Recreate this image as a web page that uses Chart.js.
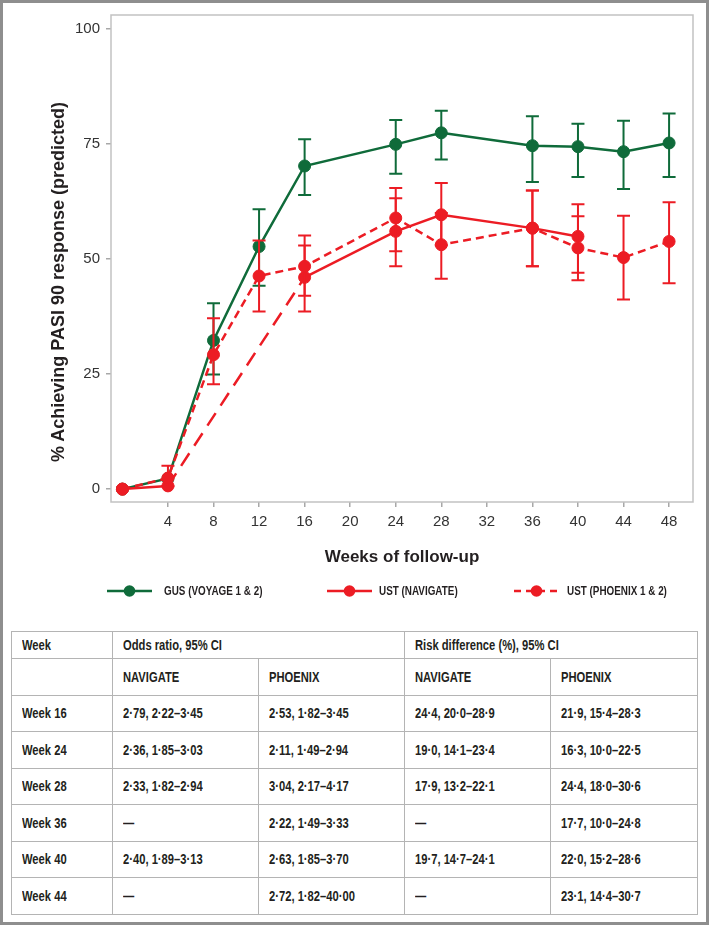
<!DOCTYPE html>
<html>
<head>
<meta charset="utf-8">
<script src="https://cdn.jsdelivr.net/npm/chart.js@4.4.1/dist/chart.umd.min.js"></script>
<style>
body { margin: 0; background: #fff; }
#page { position: relative; width: 709px; height: 925px; overflow: hidden;
  font-family: "Liberation Sans", Arial, sans-serif; color: #231f20; }
#frame { position: absolute; left: 0; top: 0; width: 709px; height: 925px; box-sizing: border-box;
  border: 3px solid #8e8e8e; pointer-events: none; }
#chartWrap { position: absolute; left: 0; top: 0; width: 709px; height: 575px; }
#ytitle { position: absolute; left: 58px; top: 282px; transform: translate(-50%, -50%) rotate(-90deg);
  font-size: 18px; font-weight: bold; white-space: nowrap; }
.item { position: absolute; top: 580px; height: 22px; font-size: 13px; font-weight: bold; line-height: 22px; white-space: nowrap; }
.item svg { position: absolute; top: 4px; }
.item span { position: absolute; top: 0; transform: scaleX(0.76); transform-origin: left center; }
#tbl { position: absolute; left: 11px; top: 631px; width: 686px; border-collapse: collapse; table-layout: fixed;
  font-size: 14px; font-weight: bold; }
#tbl td { border: 1.5px solid #b4b4b4; padding: 0 0 0 10px; white-space: nowrap; overflow: visible; }
#tbl td span { display: inline-block; transform: scaleX(0.8); transform-origin: left center; }
#tbl tr { height: 36.5px; }
#tbl tr.head { height: 27px; }
</style>
</head>
<body>
<div id="page">
  <div id="chartWrap"><canvas id="chart" width="709" height="575"></canvas></div>
  <div id="ytitle">% Achieving PASI 90 response (predicted)</div>
  <table id="tbl">
    <colgroup><col style="width:101px"><col style="width:146px"><col style="width:146px"><col style="width:146px"><col style="width:147px"></colgroup>
    <tbody id="tbody"></tbody>
  </table>
  <div id="frame"></div>
</div>
<script>
// DATA
const xTicks = [4, 8, 12, 16, 20, 24, 28, 32, 36, 40, 44, 48];
const yTicks = [0, 25, 50, 75, 100];

const gusWeeks = [0, 4, 8, 12, 16, 24, 28, 36, 40, 44, 48];
const gusPct   = [0, 2.3, 32.3, 52.7, 70.2, 74.9, 77.4, 74.6, 74.4, 73.3, 75.2];
const gusLow   = [null, null, 24.9, 44.2, 63.9, 68.5, 71.6, 66.7, 67.8, 65.2, 67.8];
const gusHigh  = [null, null, 40.4, 60.8, 76.0, 80.2, 82.2, 81.0, 79.4, 80.0, 81.6];

const navWeeks = [0, 4, 16, 24, 28, 36, 40];
const navPct   = [0, 0.7, 46.0, 56.0, 59.6, 56.7, 54.9];
const navLow   = [null, null, 38.6, 48.4, 53.0, 48.4, 47.0];
const navHigh  = [null, null, 52.9, 63.2, 66.5, 64.9, 61.9];

const phxWeeks = [0, 4, 8, 12, 16, 24, 28, 36, 40, 44, 48];
const phxPct   = [0, 2.4, 29.2, 46.3, 48.4, 58.9, 53.1, 56.7, 52.4, 50.3, 53.8];
const phxLow   = [null, 0.6, 22.8, 38.6, 42.0, 51.7, 45.7, 48.4, 45.4, 41.2, 44.7];
const phxHigh  = [null, 5.1, 37.1, 54.0, 55.1, 65.4, 60.0, 64.9, 59.3, 59.4, 62.3];

const seriesNames = ['GUS (VOYAGE 1 & 2)', 'UST (NAVIGATE)', 'UST (PHOENIX 1 & 2)'];

// table
const tableWeeks = ['Week 16', 'Week 24', 'Week 28', 'Week 36', 'Week 40', 'Week 44'];
const orNavigate = ['2·79, 2·22–3·45', '2·36, 1·85–3·03', '2·33, 1·82–2·94', '—', '2·40, 1·89–3·13', '—'];
const orPhoenix  = ['2·53, 1·82–3·45', '2·11, 1·49–2·94', '3·04, 2·17–4·17', '2·22, 1·49–3·33', '2·63, 1·85–3·70', '2·72, 1·82–40·00'];
const rdNavigate = ['24·4, 20·0–28·9', '19·0, 14·1–23·4', '17·9, 13·2–22·1', '—', '19·7, 14·7–24·1', '—'];
const rdPhoenix  = ['21·9, 15·4–28·3', '16·3, 10·0–22·5', '24·4, 18·0–30·6', '17·7, 10·0–24·8', '22·0, 15·2–28·6', '23·1, 14·4–30·7'];

const GREEN = '#0f6b3a';
const RED = '#ec1c24';
const FONT = '"Liberation Sans", Arial, sans-serif';

function pts(xs, ys) { return xs.map((x, i) => ({x: x, y: ys[i]})); }

// frame round the plot area
const plotFrame = {
  id: 'plotFrame',
  beforeDatasetsDraw(chart) {
    const a = chart.chartArea, ctx = chart.ctx;
    ctx.save();
    ctx.strokeStyle = '#c2c2c2';
    ctx.lineWidth = 1.5;
    ctx.strokeRect(a.left, a.top, a.right - a.left, a.bottom - a.top);
    ctx.restore();
  }
};

// 95% CI whiskers
const errorBars = {
  id: 'errorBars',
  beforeDatasetDraw(chart, args) {
    const ds = chart.data.datasets[args.index];
    if (!ds.ciLow) return;
    const ctx = chart.ctx, xs = chart.scales.x, ys = chart.scales.y;
    ctx.save();
    ctx.strokeStyle = ds.borderColor;
    ctx.lineWidth = 2;
    ctx.setLineDash([]);
    ds.data.forEach((p, i) => {
      const lo = ds.ciLow[i], hi = ds.ciHigh[i];
      if (lo == null) return;
      const px = xs.getPixelForValue(p.x);
      const y1 = ys.getPixelForValue(lo), y2 = ys.getPixelForValue(hi);
      ctx.beginPath();
      ctx.moveTo(px, y1); ctx.lineTo(px, y2);
      ctx.moveTo(px - 6.5, y1); ctx.lineTo(px + 6.5, y1);
      ctx.moveTo(px - 6.5, y2); ctx.lineTo(px + 6.5, y2);
      ctx.stroke();
    });
    ctx.restore();
  }
};

const lineStyle = {
  borderWidth: 2.5, pointRadius: 6, pointBorderWidth: 1, pointHoverRadius: 6,
  tension: 0, fill: false
};

new Chart(document.getElementById('chart'), {
  type: 'line',
  data: {
    datasets: [
      Object.assign({}, lineStyle, {
        label: seriesNames[1], data: pts(navWeeks, navPct), ciLow: navLow, ciHigh: navHigh,
        borderColor: RED, backgroundColor: RED, pointBackgroundColor: RED, order: 2,
        segment: { borderDash: c => (c.p0.parsed.x === 4 && c.p1.parsed.x === 16) ? [15, 9] : undefined }
      }),
      Object.assign({}, lineStyle, {
        label: seriesNames[2], data: pts(phxWeeks, phxPct), ciLow: phxLow, ciHigh: phxHigh,
        borderColor: RED, backgroundColor: RED, pointBackgroundColor: RED, borderDash: [8, 5], order: 1
      }),
      Object.assign({}, lineStyle, {
        label: seriesNames[0], data: pts(gusWeeks, gusPct), ciLow: gusLow, ciHigh: gusHigh,
        borderColor: GREEN, backgroundColor: GREEN, pointBackgroundColor: GREEN, order: 3
      })
    ]
  },
  options: {
    responsive: false,
    animation: false,
    layout: { padding: { left: 0, top: 12, right: 16, bottom: 0 } },
    plugins: { legend: { display: false }, tooltip: { enabled: false } },
    scales: {
      x: {
        type: 'linear', min: -1, max: 50.1,
        afterBuildTicks: s => { s.ticks = xTicks.map(v => ({value: v})); },
        afterFit: s => { s.height = 73; },
        grid: { display: true, drawOnChartArea: false, tickLength: 5, tickColor: '#a8a8a8', lineWidth: 1.5 },
        border: { display: false },
        ticks: { padding: 6, autoSkip: false, maxRotation: 0, color: '#333', font: { family: FONT, size: 15 },
                 callback: v => String(v) },
        title: { display: true, text: 'Weeks of follow-up', color: '#231f20',
                 font: { family: FONT, size: 17, weight: 'bold' }, padding: { top: 0, bottom: 7 } }
      },
      y: {
        min: -2.8, max: 103,
        afterBuildTicks: s => { s.ticks = yTicks.map(v => ({value: v})); },
        afterFit: s => { s.width = 111; },
        grid: { display: true, drawOnChartArea: false, tickLength: 5, tickColor: '#a8a8a8', lineWidth: 1.5 },
        border: { display: false },
        ticks: { padding: 6, color: '#333', font: { family: FONT, size: 15 }, callback: v => String(v) }
      }
    }
  },
  plugins: [plotFrame, errorBars]
});

// legend
const legendItems = [
  { name: seriesNames[0], color: GREEN, dash: '', left: 107, textLeft: 164 },
  { name: seriesNames[1], color: RED, dash: '', left: 327, textLeft: 379 },
  { name: seriesNames[2], color: RED, dash: '7,5', left: 514, textLeft: 567 }
];
const page = document.getElementById('page');
legendItems.forEach(it => {
  const d = document.createElement('div');
  d.className = 'item';
  d.style.left = it.left + 'px';
  d.innerHTML = '<svg width="46" height="14"><line x1="0" y1="7" x2="45" y2="7" stroke="' + it.color +
    '" stroke-width="2.5"' + (it.dash ? ' stroke-dasharray="' + it.dash + '"' : '') + '/>' +
    '<circle cx="22.5" cy="7" r="5.8" fill="' + it.color + '"/></svg>' +
    '<span style="left:' + (it.textLeft - it.left) + 'px">' + it.name + '</span>';
  page.appendChild(d);
});

// table
function cell(t, span) { return '<td' + (span ? ' colspan="' + span + '"' : '') + '><span>' + t + '</span></td>'; }
const tb = document.getElementById('tbody');
let html = '<tr class="head">' + cell('Week') + cell('Odds ratio, 95% CI', 2) + cell('Risk difference (%), 95% CI', 2) + '</tr>';
html += '<tr>' + cell('') + cell('NAVIGATE') + cell('PHOENIX') + cell('NAVIGATE') + cell('PHOENIX') + '</tr>';
tableWeeks.forEach((w, i) => {
  html += '<tr>' + cell(w) + cell(orNavigate[i]) + cell(orPhoenix[i]) + cell(rdNavigate[i]) + cell(rdPhoenix[i]) + '</tr>';
});
tb.innerHTML = html;
</script>
</body>
</html>
